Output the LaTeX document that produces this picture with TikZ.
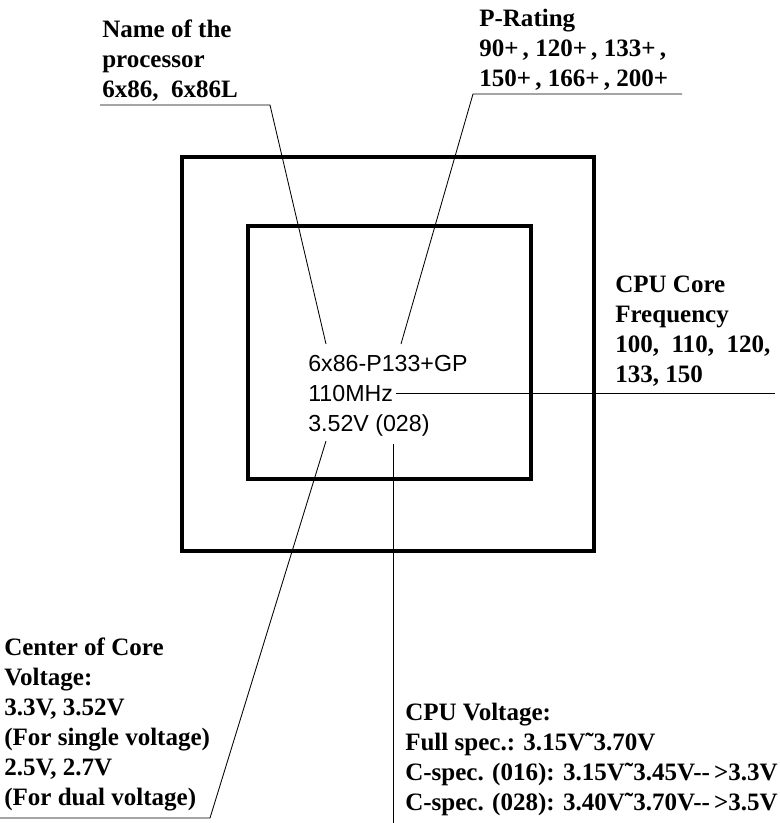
\documentclass[tikz,border=0pt]{standalone}
\usepackage{fontspec}
\setmainfont{Liberation Serif}
\setsansfont{Liberation Sans}
\usepackage{tikz}

\begin{document}
\begin{tikzpicture}[x=0.025cm,y=-0.025cm,
  notetext/.style={anchor=north west,inner sep=0pt,align=left,font=\fontsize{17.8}{21.3}\selectfont\bfseries},
  chiptext/.style={anchor=north west,inner sep=0pt,align=left,font=\fontsize{16.5}{21.3}\selectfont\sffamily},
  leader/.style={line width=0.6pt},
  frame/.style={line width=2.8pt}]
\useasboundingbox (0,0) rectangle (780,823);
\draw[frame] (182,157) rectangle (594,551);
\draw[frame] (248,226) rectangle (531,479);
\node[chiptext] (chip) at (308,355) {6x86-P133+GP\\110MHz\\3.52V (028)};
\node[notetext] (name) at (102,20) {Name of the\\processor\\6x86,\ \ 6x86L};
\node[notetext] (rating) at (479,9) {P-Rating\\90+\,, 120+\,, 133+\,,\\150+\,, 166+\,, 200+};
\node[notetext] (freq) at (615,276) {CPU Core\\Frequency\\100,\ \ 110,\ \ 120,\\133, 150};
\node[notetext] (core) at (4,638) {Center of Core\\Voltage:\\3.3V, 3.52V\\(For single voltage)\\2.5V, 2.7V\\(For dual voltage)};
\node[notetext] (volt) at (405,703) {CPU Voltage:\\Full spec.: 3.15V˜3.70V\\C-spec. (016): 3.15V˜3.45V-{}-\,>3.3V\\C-spec. (028): 3.40V˜3.70V-{}-\,>3.5V};
\coordinate (nameL) at (100,105);
\coordinate (nameR) at (270,105);
\coordinate (nameE) at (326,344);
\coordinate (rateL) at (473,94);
\coordinate (rateR) at (682,94);
\coordinate (rateE) at (401,344);
\coordinate (freqS) at (396,393);
\coordinate (freqE) at (775,393);
\coordinate (coreL) at (0,818);
\coordinate (coreR) at (210,818);
\coordinate (coreE) at (326,441);
\coordinate (voltS) at (393,444);
\coordinate (voltE) at (393,823);
\draw[leader] (nameL) -- (nameR) -- (nameE);
\draw[leader] (rateR) -- (rateL) -- (rateE);
\draw[leader] (freqS) -- (freqE);
\draw[leader] (coreL) -- (coreR) -- (coreE);
\draw[leader] (voltS) -- (voltE);
\end{tikzpicture}
\end{document}
